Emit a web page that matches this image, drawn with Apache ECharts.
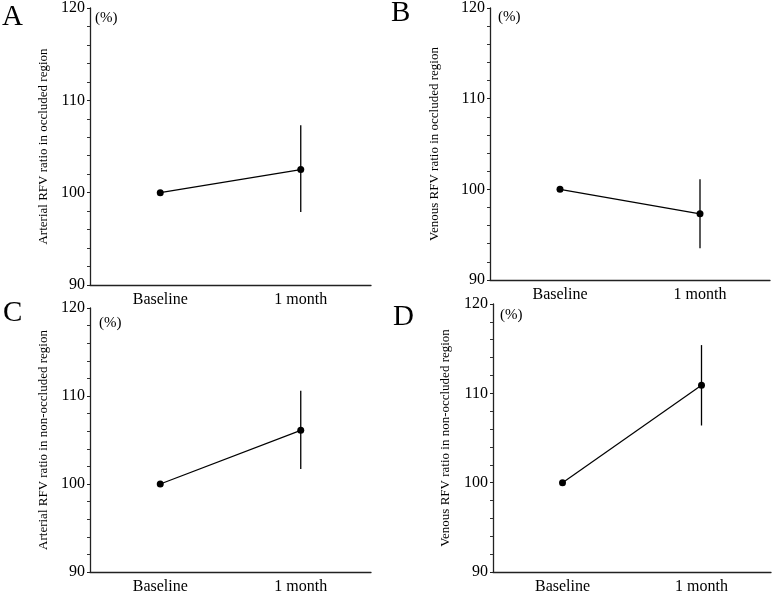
<!DOCTYPE html>
<html>
<head>
<meta charset="utf-8">
<script src="https://cdn.jsdelivr.net/npm/echarts@6/dist/echarts.min.js"></script>
<style>
html,body{margin:0;padding:0;background:#fff;}
#chart{width:778px;height:595px;}
</style>
</head>
<body>
<div id="chart"></div>
<script>
// ---- Data ----
const categories = ['Baseline', '1 month'];
const panelLetters = ['A', 'B', 'C', 'D'];
const yTitles = [
  'Arterial RFV ratio in occluded region',
  'Venous RFV ratio in occluded region',
  'Arterial RFV ratio in non-occluded region',
  'Venous RFV ratio in non-occluded region'
];
const meanA = [100, 102.5];
const meanB = [100, 97.3];
const meanC = [100, 106.1];
const meanD = [100, 110.9];
// error bar bounds at 1 month (lower, upper)
const errA = [97.9, 107.3];
const errB = [93.5, 101.1];
const errC = [101.7, 110.6];
const errD = [106.4, 115.4];
const yTickMin = 90, yTickMax = 120, yTickStep = 10;

const means = [meanA, meanB, meanC, meanD];
const errs = [errA, errB, errC, errD];

const serif = '"Liberation Serif","Times New Roman",serif';

const grids = [
  {left: 90, right: 407, top: 7.5, bottom: 310},
  {left: 490, right: 8, top: 7, bottom: 315},
  {left: 90, right: 407, top: 308, bottom: 22},
  {left: 493, right: 7, top: 304, bottom: 22}
];
const nameGaps = [40, 49, 40, 41];
const letterPos = [
  {left: 2, top: 3}, {left: 391, top: -1}, {left: 3, top: 299}, {left: 393, top: 303}
];
const pctPos = [
  {left: 95, top: 11}, {left: 498, top: 10}, {left: 99, top: 316}, {left: 500, top: 308}
];

const titles = [];
panelLetters.forEach((L, i) => {
  titles.push({text: L, left: letterPos[i].left, top: letterPos[i].top, padding: 0,
    textStyle: {fontFamily: serif, fontSize: 29, fontWeight: 'normal', color: '#000'}});
  titles.push({text: '(%)', left: pctPos[i].left, top: pctPos[i].top, padding: 0,
    textStyle: {fontFamily: serif, fontSize: 15, fontWeight: 'normal', color: '#000'}});
});

const xAxes = [], yAxes = [], series = [];
for (let i = 0; i < 4; i++) {
  xAxes.push({
    type: 'category', gridIndex: i, data: categories, boundaryGap: true,
    axisLine: {lineStyle: {color: '#222', width: 1.3}},
    axisTick: {show: false},
    axisLabel: {fontFamily: serif, fontSize: 16, color: '#000', margin: 7}
  });
  yAxes.push({
    type: 'value', gridIndex: i, min: yTickMin, max: yTickMax, interval: yTickStep,
    name: yTitles[i], nameLocation: 'middle', nameRotate: 90, nameGap: nameGaps[i],
    nameTextStyle: {fontFamily: serif, fontSize: 13, color: '#000'},
    axisLine: {show: true, lineStyle: {color: '#222', width: 1.3}},
    axisTick: {show: true, length: 3, lineStyle: {color: '#222'}},
    minorTick: {show: true, splitNumber: 5, length: 3, lineStyle: {color: '#333', width: 1}},
    splitLine: {show: false},
    axisLabel: {fontFamily: serif, fontSize: 16, color: '#000', margin: 5}
  });
  series.push({
    type: 'line', xAxisIndex: i, yAxisIndex: i, data: means[i],
    symbol: 'circle', symbolSize: 7,
    lineStyle: {color: '#000', width: 1.2},
    itemStyle: {color: '#000'}, z: 3
  });
  series.push({
    type: 'custom', xAxisIndex: i, yAxisIndex: i,
    data: [[1, errs[i][0], errs[i][1]]],
    renderItem: function (params, api) {
      const lo = api.coord([api.value(0), api.value(1)]);
      const hi = api.coord([api.value(0), api.value(2)]);
      return {type: 'line', shape: {x1: lo[0], y1: lo[1], x2: hi[0], y2: hi[1]},
        style: {stroke: '#000', lineWidth: 1.3}};
    }, z: 2
  });
}

const chart = echarts.init(document.getElementById('chart'));
chart.setOption({
  animation: false,
  backgroundColor: '#fff',
  title: titles,
  grid: grids,
  xAxis: xAxes,
  yAxis: yAxes,
  series: series
});
</script>
</body>
</html>
